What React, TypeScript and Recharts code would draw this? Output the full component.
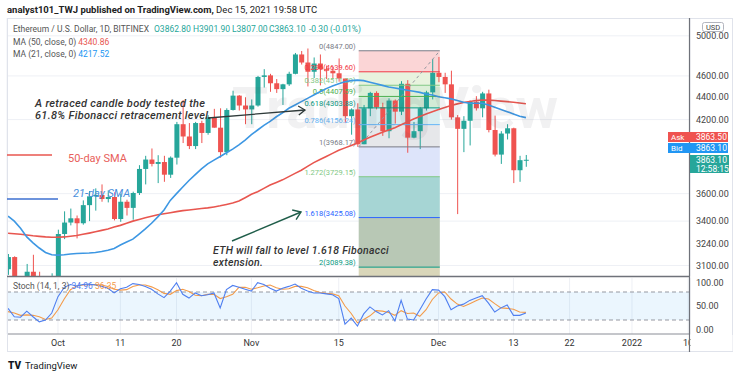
import React from "react";
import {
  Bar,
  CartesianGrid,
  ComposedChart,
  Line,
  ReferenceArea,
  ReferenceLine,
  XAxis,
  YAxis,
} from "recharts";

// day index: Oct 1 2021 = 0, first candle is Sep 23
const FIRST_DAY = -8;

const opens = [
  3076, 3155, 2930, 2925, 3060, 2930, 2810, 2850,
  3000, 3310, 3390, 3420, 3385, 3515, 3580, 3590, 3560, 3575,
  3415, 3540, 3495, 3605, 3790, 3865, 3830, 3845, 3745, 3880,
  4160, 4055, 3975, 4170, 4085, 4220, 4130, 3925, 4285, 4415,
  4325, 4290, 4325, 4590, 4605, 4530, 4475, 4520, 4620, 4810,
  4730, 4640, 4720, 4665, 4650, 4625, 4575, 4230, 4290, 3990,
  4300, 4440, 4310, 4100, 4370, 4270, 4525, 4045, 4100, 4300,
  4445, 4630, 4590, 4520, 4220, 4120, 4190, 4360, 4300, 4435,
  4110, 3905, 4080, 4125, 3780, 3862.8,
];
const highs = [
  3175, 3160, 2965, 3110, 3170, 3060, 2950, 3050,
  3340, 3470, 3490, 3440, 3550, 3620, 3640, 3670, 3625, 3610,
  3600, 3555, 3615, 3820, 3895, 3955, 3900, 3895, 3890, 4180,
  4375, 4170, 4180, 4190, 4240, 4295, 4300, 4300, 4460, 4420,
  4400, 4380, 4600, 4665, 4620, 4570, 4525, 4640, 4825, 4845,
  4870, 4780, 4810, 4700, 4690, 4770, 4575, 4300, 4345, 4330,
  4450, 4455, 4350, 4390, 4380, 4550, 4560, 4180, 4310, 4460,
  4765, 4785, 4630, 4650, 4240, 4230, 4370, 4410, 4450, 4470,
  4235, 4100, 4160, 4130, 3895, 3901.9,
];
const lows = [
  3040, 2740, 2830, 2745, 2925, 2805, 2790, 2840,
  2970, 3275, 3370, 3280, 3375, 3400, 3475, 3540, 3535, 3405,
  3395, 3440, 3410, 3590, 3670, 3810, 3680, 3690, 3720, 3825,
  4000, 3950, 3950, 4000, 4070, 4130, 3880, 3900, 4280, 4280,
  4160, 4160, 4315, 4490, 4450, 4440, 4330, 4505, 4615, 4710,
  4500, 4580, 4510, 4570, 4570, 4545, 4170, 4070, 3968, 3990,
  4230, 4290, 4060, 4040, 4165, 4240, 3920, 4040, 3950, 4280,
  4380, 4540, 4440, 4200, 3450, 3925, 3980, 4280, 4220, 4090,
  3890, 3830, 4030, 3680, 3690, 3807,
];
const closes = [
  3155, 2930, 2925, 3060, 2930, 2810, 2850, 3000,
  3310, 3390, 3420, 3385, 3515, 3580, 3590, 3560, 3575, 3415,
  3540, 3495, 3605, 3790, 3865, 3830, 3845, 3745, 3880, 4160,
  4055, 3975, 4170, 4085, 4220, 4130, 3925, 4285, 4415, 4325,
  4290, 4325, 4590, 4605, 4530, 4475, 4520, 4620, 4810, 4730,
  4640, 4720, 4665, 4650, 4625, 4575, 4230, 4290, 3990, 4300,
  4440, 4310, 4100, 4370, 4270, 4525, 4045, 4100, 4300, 4445,
  4630, 4590, 4520, 4220, 4120, 4190, 4360, 4300, 4435, 4110,
  3905, 4080, 4125, 3780, 3860, 3863.1,
];
const ma50 = [
  3315, 3312, 3308, 3303, 3298, 3294, 3290, 3288,
  3288, 3290, 3295, 3300, 3308, 3316, 3325, 3335, 3345, 3358,
  3370, 3385, 3400, 3412, 3424, 3435, 3445, 3452, 3460, 3468,
  3475, 3480, 3485, 3490, 3495, 3502, 3510, 3520, 3530, 3545,
  3570, 3595, 3615, 3640, 3665, 3685, 3705, 3730, 3755, 3780,
  3810, 3840, 3865, 3890, 3915, 3940, 3960, 3980, 4000, 4025,
  4048, 4070, 4090, 4110, 4130, 4155, 4180, 4205, 4228, 4250,
  4270, 4290, 4308, 4325, 4340, 4352, 4362, 4370, 4375, 4374,
  4370, 4365, 4360, 4355, 4348, 4340.86,
];
const ma21 = [
  3435, 3400, 3350, 3290, 3250, 3215, 3185, 3170,
  3168, 3170, 3175, 3178, 3180, 3182, 3185, 3192, 3200, 3212,
  3235, 3255, 3275, 3310, 3345, 3385, 3430, 3480, 3550, 3600,
  3650, 3700, 3745, 3790, 3830, 3860, 3890, 3920, 3950, 3985,
  4025, 4070, 4110, 4150, 4185, 4225, 4260, 4300, 4330, 4360,
  4390, 4420, 4450, 4480, 4505, 4525, 4545, 4555, 4560, 4555,
  4540, 4525, 4510, 4495, 4485, 4475, 4465, 4455, 4445, 4430,
  4420, 4405, 4395, 4385, 4370, 4355, 4345, 4345, 4345, 4330,
  4310, 4290, 4270, 4250, 4230, 4217.52,
];
const stochK = [
  45, 27, 26, 39, 27, 16, 20, 35,
  70, 90, 96, 93, 96, 97, 95, 92, 88, 78,
  87, 90, 98, 96, 92, 86, 76, 68, 82, 100,
  75, 67, 78, 72, 74, 78, 46, 85, 94, 90,
  86, 82, 100, 96, 88, 82, 88, 92, 97, 88,
  82, 78, 78, 76, 74, 66, 11, 24, 7, 33,
  48, 38, 31, 40, 18, 62, 22, 20, 42, 65,
  85, 84, 70, 42, 50, 54, 62, 67, 72, 56,
  37, 46, 52, 30, 30, 34.96,
];
const stochD = [
  38, 35, 30, 31, 30, 27, 21, 24,
  42, 65, 85, 93, 95, 95, 96, 95, 92, 86,
  84, 85, 92, 95, 95, 91, 85, 77, 75, 83,
  86, 81, 73, 72, 75, 75, 66, 70, 75, 90,
  90, 86, 89, 93, 95, 89, 86, 87, 92, 92,
  89, 83, 79, 77, 76, 72, 50, 34, 14, 21,
  29, 40, 39, 36, 30, 40, 34, 35, 28, 42,
  64, 78, 80, 65, 54, 49, 55, 61, 67, 65,
  55, 46, 45, 43, 37, 36.35,
];

const timeTicks = [0, 10, 19, 31, 45, 61, 73, 82, 92, 101];
const timeLabels = ["Oct", "11", "20", "Nov", "15", "Dec", "13", "22", "2022", "10"];
const priceTicks = [5000, 4600, 4400, 4200, 3600, 3400, 3240, 3100];
const stochTicks = [0, 50, 100];

const fibStart = 48.2;
const fibEnd = 61.2;
const fibRatios = ["0", "0.236", "0.382", "0.5", "0.618", "0.786", "1", "1.272", "1.618", "2", "2.618"];
const fibPrices = [4847.0, 4639.6, 4511.29, 4407.59, 4303.88, 4156.24, 3968.17, 3729.15, 3425.08, 3089.38, 2546.2];
const fibColors = ["#787b86", "#f23645", "#81c784", "#4caf50", "#089981", "#64b5f6", "#787b86", "#81c784", "#2962ff", "#089981", "#f23645"];
const fibFills = ["#fbd5d6", "#e8f3de", "#dcefd8", "#d2ebd6", "#d9edf0", "#e6e7ea", "#dde4fa", "#a6d5d4", "#b8c8b5", "#d9d6b9"];

const GREEN = "#26a69a";
const RED = "#ef5350";
const FONT = "Roboto, 'Noto Sans', sans-serif";

const rows = opens.map((o, i) => ({
  d: FIRST_DAY + i,
  o,
  h: highs[i],
  l: lows[i],
  c: closes[i],
  range: [lows[i], highs[i]],
  ma50: ma50[i],
  ma21: ma21[i],
  k: stochK[i],
  dd: stochD[i],
}));

function Candle(props: any) {
  const { x, y, width, height, payload } = props;
  if (x == null || y == null) return null;
  const top = Math.min(y, y + height);
  const span = Math.abs(height);
  const lh = Math.log(payload.h);
  const ll = Math.log(payload.l);
  const py = (p: number) => top + ((lh - Math.log(p)) / (lh - ll)) * span;
  const up = payload.c >= payload.o;
  const color = up ? GREEN : RED;
  const cx = x + width / 2;
  const b1 = py(Math.max(payload.o, payload.c));
  const b2 = py(Math.min(payload.o, payload.c));
  return (
    <g>
      <line x1={cx} x2={cx} y1={top} y2={top + span} stroke={color} strokeWidth={1} />
      <rect x={x} y={b1} width={width} height={Math.max(1, b2 - b1)} fill={color} />
    </g>
  );
}

function FibLabel(text: string, color: string) {
  return (props: any) => {
    const vb = props.viewBox || {};
    return (
      <text x={vb.x - 3} y={vb.y - 2} textAnchor="end" fontSize={7.5} fill={color} fontFamily={FONT}>
        {text}
      </text>
    );
  };
}

function TimeTick(props: any) {
  const { x, y, payload } = props;
  const idx = timeTicks.indexOf(payload.value);
  return (
    <text x={x} y={y + 4} textAnchor="middle" fontSize={9} fill="#333" fontFamily={FONT}>
      {timeLabels[idx]}
    </text>
  );
}

function MainChart() {
  return (
    <ComposedChart width={740} height={333} data={rows} margin={{ top: 0, right: 0, bottom: 0, left: 7 }}>
      <CartesianGrid stroke="#eef0f5" />
      <XAxis
        type="number"
        dataKey="d"
        domain={[-8.17, 101.3]}
        ticks={timeTicks}
        allowDataOverflow
        tick={false}
        tickLine={false}
        axisLine={false}
        height={0}
      />
      <YAxis
        orientation="right"
        scale="log"
        domain={[2600, 5200]}
        allowDataOverflow
        ticks={priceTicks}
        width={50}
        tickLine={false}
        axisLine={false}
        tickSize={0}
        tickMargin={6}
        tick={{ fontSize: 9, fill: "#444", fontFamily: FONT, textAnchor: "start" }}
        tickFormatter={(v: number) => v.toFixed(2)}
      />
      {fibFills.map((fill, i) => (
        <ReferenceArea
          key={"fa" + i}
          x1={fibStart}
          x2={fibEnd}
          y1={fibPrices[i + 1]}
          y2={fibPrices[i]}
          fill={fill}
          fillOpacity={1}
          stroke="none"
          ifOverflow="hidden"
        />
      ))}
      {fibPrices.slice(0, 10).map((p, i) => (
        <ReferenceLine
          key={"fl" + i}
          segment={[
            { x: fibStart, y: p },
            { x: fibEnd, y: p },
          ]}
          stroke={fibColors[i]}
          strokeWidth={1}
          label={FibLabel(`${fibRatios[i]}(${p.toFixed(2)})`, fibColors[i])}
        />
      ))}
      <ReferenceLine
        segment={[
          { x: fibStart, y: fibPrices[6] },
          { x: fibEnd, y: fibPrices[0] },
        ]}
        stroke="#9598a1"
        strokeDasharray="3 3"
      />
      <Bar dataKey="range" barSize={5} shape={Candle} isAnimationActive={false} />
      <Line type="linear" dataKey="ma50" stroke="#e8564f" strokeWidth={1.6} dot={false} isAnimationActive={false} />
      <Line type="linear" dataKey="ma21" stroke="#3d97e3" strokeWidth={1.6} dot={false} isAnimationActive={false} />
    </ComposedChart>
  );
}

function StochChart() {
  return (
    <ComposedChart width={740} height={75} data={rows} margin={{ top: 0, right: 0, bottom: 0, left: 7 }}>
      <CartesianGrid stroke="#eef0f5" horizontal={false} />
      <XAxis
        type="number"
        dataKey="d"
        domain={[-8.17, 101.3]}
        ticks={timeTicks}
        allowDataOverflow
        height={19}
        tickLine={false}
        axisLine={{ stroke: "#8a8d96" }}
        tick={TimeTick}
      />
      <YAxis
        orientation="right"
        domain={[-10, 110]}
        ticks={stochTicks}
        width={50}
        tickLine={false}
        axisLine={false}
        tickSize={0}
        tickMargin={6}
        tick={{ fontSize: 9, fill: "#444", fontFamily: FONT, textAnchor: "start" }}
        tickFormatter={(v: number) => v.toFixed(2)}
      />
      <ReferenceArea y1={20} y2={80} fill="#2196f3" fillOpacity={0.09} stroke="none" />
      <ReferenceLine y={80} stroke="#9598a1" strokeDasharray="4 3" />
      <ReferenceLine y={20} stroke="#9598a1" strokeDasharray="4 3" />
      <Line type="linear" dataKey="dd" stroke="#f39b4a" strokeWidth={1.1} dot={false} isAnimationActive={false} />
      <Line type="linear" dataKey="k" stroke="#4f7ff0" strokeWidth={1.1} dot={false} isAnimationActive={false} />
    </ComposedChart>
  );
}

const abs = (l: number, t: number, extra: React.CSSProperties = {}): React.CSSProperties => ({
  position: "absolute",
  left: l,
  top: t,
  whiteSpace: "nowrap",
  ...extra,
});

export default function App() {
  const small: React.CSSProperties = { fontSize: 8.5, lineHeight: "10px", fontFamily: FONT };
  return (
    <div
      style={{
        position: "absolute",
        left: 0,
        top: 0,
        width: 740,
        height: 377,
        background: "#fff",
        overflow: "hidden",
        fontFamily: FONT,
      }}
    >
      {/* header */}
      <div style={abs(7, 4, { fontSize: 9.5, color: "#222" })}>
        <span style={{ fontWeight: 700 }}>analyst101_TWJ published on TradingView.com,</span>
        <span> Dec 15, 2021 19:58 UTC</span>
      </div>

      {/* main pane */}
      <div style={{ position: "absolute", left: 0, top: 18, width: 740, height: 258, overflow: "hidden" }}>
        <div style={{ position: "absolute", left: 0, top: -1 }}>
          <MainChart />
        </div>
      </div>

      {/* stoch pane + time axis */}
      <div style={{ position: "absolute", left: 0, top: 278 }}>
        <StochChart />
      </div>

      {/* overlays */}
      <svg width={740} height={377} style={{ position: "absolute", left: 0, top: 0, pointerEvents: "none" }}>
        <text x={232} y={128} fontSize={58} fontWeight={700} fill="#50505a" fillOpacity={0.08} fontFamily={FONT}>
          TradingView
        </text>
        <rect x={7.5} y={18.5} width={725} height={333} fill="none" stroke="#e0e3eb" />
        <line x1={7} x2={690} y1={276.5} y2={276.5} stroke="#6f727a" strokeWidth={1.5} />
        <line x1={689.5} x2={689.5} y1={18} y2={352} stroke="#6f727a" strokeWidth={1.2} />
        {/* SMA legend marks */}
        <line x1={7} x2={52} y1={155} y2={155} stroke="#e8564f" strokeWidth={1.6} />
        <line x1={7} x2={58} y1={199} y2={199} stroke="#3d6fd1" strokeWidth={1.6} />
        {/* arrow 1 */}
        <g stroke="#2f3a3a" strokeWidth={1.3} fill="none">
          <line x1={208} y1={118} x2={305} y2={110} />
          <polyline points="298.1,106 305,110 298.8,115.1" />
        </g>
        {/* arrow 2 */}
        <g stroke="#1f5d49" strokeWidth={1.4} fill="none">
          <line x1={232} y1={241} x2={301} y2={212} />
          <polyline points="292.2,210 301,212 296.1,219.6" />
        </g>
        <text x={68} y={162} fontSize={11} fill="#e8605a" fontFamily={FONT}>
          50-day SMA
        </text>
        <text x={73} y={197} fontSize={11} fontStyle="italic" fill="#4a8fdc" fontFamily={FONT}>
          21-day SMA
        </text>
        <g fontSize={11} fontStyle="italic" fontWeight={500} fill="#333" fontFamily={FONT} letterSpacing={0.3}>
          <text x={35} y={107}>A retraced candle body tested the</text>
          <text x={35} y={119}>61.8% Fibonacci retracement level.</text>
        </g>
        <g fontSize={10.5} fontStyle="italic" fontWeight={500} fill="#333" fontFamily={FONT} letterSpacing={0.3}>
          <text x={213} y={254}>ETH will fall to level 1.618 Fibonacci</text>
          <text x={213} y={266}>extension.</text>
        </g>
        {/* price axis boxes */}
        <rect x={702.5} y={22.5} width={21} height={9} rx={2} fill="#fff" stroke="#b2b5be" />
        <text x={713} y={30} fontSize={7.5} textAnchor="middle" fill="#444" fontFamily={FONT}>
          USD
        </text>
        <rect x={668} y={132} width={60} height={10} fill="#ef5350" />
        <text x={671} y={140} fontSize={8} fill="#fff" fontFamily={FONT}>Ask</text>
        <text x={696} y={140} fontSize={8.5} fill="#fff" fontFamily={FONT}>3863.50</text>
        <rect x={668} y={143} width={60} height={10} fill="#2196f3" />
        <text x={671} y={151} fontSize={8} fill="#fff" fontFamily={FONT}>Bid</text>
        <text x={696} y={151} fontSize={8.5} fill="#fff" fontFamily={FONT}>3863.10</text>
        <rect x={690} y={155} width={39} height={18} fill="#26a69a" />
        <text x={696} y={163} fontSize={8.5} fill="#fff" fontFamily={FONT}>3863.10</text>
        <text x={696} y={172} fontSize={8.5} fill="#fff" fontFamily={FONT}>12:58:15</text>
        {/* hide the clipped tick in price-axis column */}
        <rect x={690.5} y={335} width={42} height={16} fill="#fff" />
        {/* bottom logo */}
        <text x={8} y={369} fontSize={10} fontWeight={900} fill="#131722" fontFamily={FONT}>TV</text>
        <text x={25} y={369} fontSize={9.5} fill="#131722" fontFamily={FONT}>TradingView</text>
      </svg>

      {/* legends */}
      <div style={abs(13, 24, { ...small, color: "#555" })}>Ethereum / U.S. Dollar, 1D, BITFINEX</div>
      <div style={abs(154, 24, { ...small, color: GREEN })}>O3862.80</div>
      <div style={abs(193, 24, { ...small, color: GREEN })}>H3901.90</div>
      <div style={abs(232, 24, { ...small, color: GREEN })}>L3807.00</div>
      <div style={abs(269, 24, { ...small, color: GREEN })}>C3863.10</div>
      <div style={abs(309, 24, { ...small, color: GREEN })}>-0.30 (-0.01%)</div>
      <div style={abs(13, 37, { ...small, color: "#555" })}>
        MA (50, close, 0) <span style={{ color: "#e8564f" }}>4340.86</span>
      </div>
      <div style={abs(13, 49, { ...small, color: "#555" })}>
        MA (21, close, 0) <span style={{ color: "#2196f3" }}>4217.52</span>
      </div>
      <div style={abs(13, 281, { ...small, color: "#555" })}>
        Stoch (14, 1, 3) <span style={{ color: "#4f7ff0" }}>34.96</span>{" "}
        <span style={{ color: "#f39b4a" }}>36.35</span>
      </div>
    </div>
  );
}
